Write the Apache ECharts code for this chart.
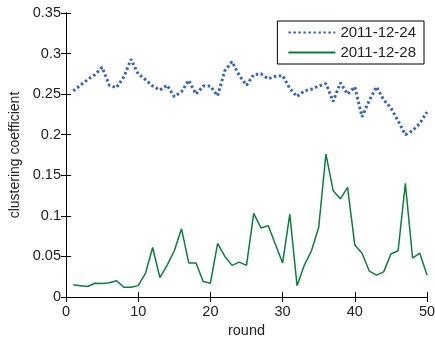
<!DOCTYPE html>
<html><head><meta charset="utf-8">
<script src="https://cdn.jsdelivr.net/npm/echarts@6/dist/echarts.min.js"></script>
<style>html,body{margin:0;padding:0;background:#fff}#c{width:435px;height:339px}</style>
</head><body><div id="c"></div>
<script>
var rounds = [];
for (var i = 1; i <= 50; i++) rounds.push(i);
var s1224 = [0.254,0.261,0.268,0.274,0.283,0.261,0.258,0.271,0.293,0.275,
             0.268,0.260,0.255,0.261,0.247,0.253,0.267,0.250,0.260,0.260,
             0.248,0.279,0.290,0.273,0.261,0.274,0.275,0.269,0.272,0.273,
             0.257,0.247,0.254,0.256,0.260,0.263,0.241,0.264,0.250,0.259,
             0.222,0.242,0.259,0.243,0.233,0.217,0.200,0.205,0.214,0.228];
var s1228 = [0.015,0.014,0.013,0.017,0.0165,0.0175,0.020,0.012,0.012,0.014,
             0.029,0.061,0.024,0.039,0.057,0.084,0.042,0.042,0.019,0.017,
             0.066,0.050,0.039,0.043,0.039,0.103,0.085,0.088,0.065,0.042,
             0.102,0.014,0.039,0.057,0.086,0.176,0.131,0.121,0.135,0.064,
             0.054,0.032,0.027,0.031,0.053,0.057,0.140,0.048,0.054,0.027];
var names = ['2011-12-24','2011-12-28'];
var xTicks = {min:0, max:50, interval:10};
var yTicks = {min:0, max:0.35, interval:0.05};

function pairs(v){ return v.map(function(y,i){ return [rounds[i], y]; }); }
var font = 'Liberation Sans, Arial, sans-serif';
var axisCommon = {
  axisLine:{show:true, lineStyle:{color:'#000', width:1}},
  axisTick:{show:true, inside:true, length:5, lineStyle:{color:'#000'}},
  splitLine:{show:false}
};
var chart = echarts.init(document.getElementById('c'), null, {renderer:'canvas'});
chart.setOption({
  animation:false,
  backgroundColor:'#fff',
  grid:{left:66, right:8, top:13, bottom:42, containLabel:false, outerBoundsMode:'none'},
  legend:{
    orient:'vertical', right:11, top:21, data:names,
    borderColor:'#000', borderWidth:1, borderRadius:0,
    backgroundColor:'#fff',
    padding:[4,8,4,10], itemGap:5, itemWidth:47, itemHeight:14,
    itemStyle:{opacity:0, borderWidth:0},
    textStyle:{fontFamily:font, fontSize:15, color:'#222', padding:[0,0,0,0]}
  },
  xAxis:[
    Object.assign({type:'value', min:xTicks.min, max:xTicks.max, interval:xTicks.interval,
      name:'round', nameLocation:'middle', nameGap:26,
      nameTextStyle:{fontFamily:font, fontSize:14.5, color:'#222'},
      axisLabel:{fontFamily:font, fontSize:14.5, color:'#222', margin:7}}, axisCommon),
    Object.assign({type:'value', position:'top', min:xTicks.min, max:xTicks.max, interval:xTicks.interval,
      axisLabel:{show:false}}, axisCommon)
  ],
  yAxis:[
    Object.assign({type:'value', min:yTicks.min, max:yTicks.max, interval:yTicks.interval,
      name:'clustering coefficient', nameLocation:'middle', nameGap:44,
      nameTextStyle:{fontFamily:font, fontSize:14, color:'#222'},
      axisLabel:{fontFamily:font, fontSize:14.5, color:'#222', margin:5}}, axisCommon),
    Object.assign({type:'value', position:'right', min:yTicks.min, max:yTicks.max, interval:yTicks.interval,
      axisLabel:{show:false}}, axisCommon)
  ],
  series:[
    {name:names[0], type:'line', data:pairs(s1224), symbol:'none', showSymbol:false,
     lineStyle:{color:'#3464c0', width:3, type:[2.5,2.5]}, itemStyle:{color:'#3464c0'}},
    {name:names[1], type:'line', data:pairs(s1228), symbol:'none', showSymbol:false,
     lineStyle:{color:'#0c7d3c', width:1.5}, itemStyle:{color:'#0c7d3c'}}
  ]
});
</script></body></html>
